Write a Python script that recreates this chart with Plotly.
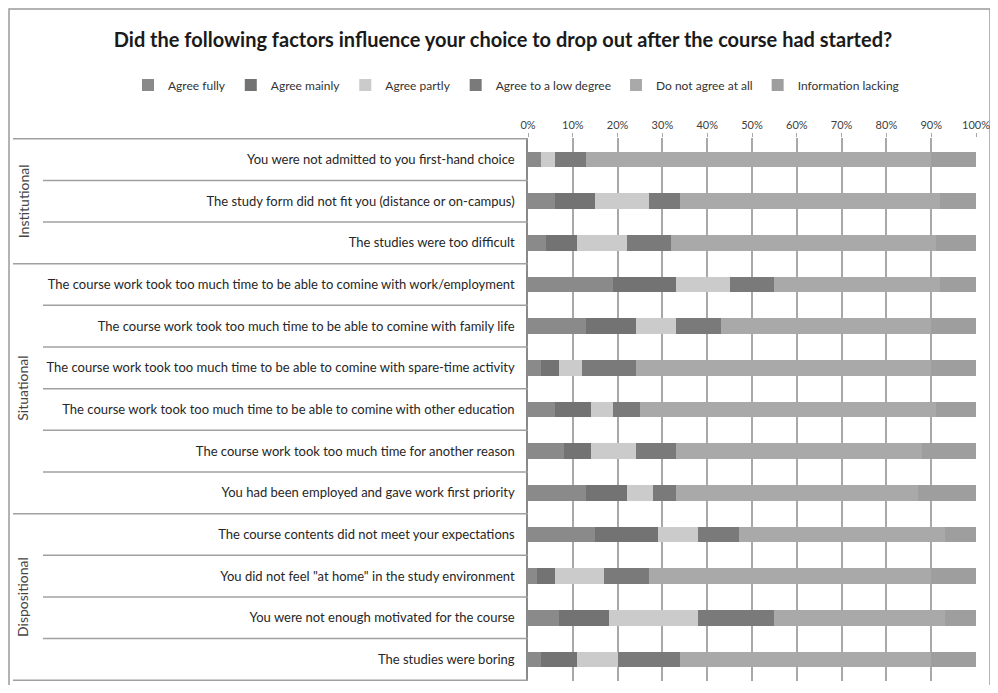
import plotly.graph_objects as go

# ---------------- data ----------------
categories = [
    "You were not admitted to you first-hand choice",
    "The study form did not fit you (distance or on-campus)",
    "The studies were too difficult",
    "The course work took too much time to be able to comine with work/employment",
    "The course work took too much time to be able to comine with family life",
    "The course work took too much time to be able to comine with spare-time activity",
    "The course work took too much time to be able to comine with other education",
    "The course work took too much time for another reason",
    "You had been employed and gave work first priority",
    "The course contents did not meet your expectations",
    "You did not feel \"at home\" in the study environment",
    "You were not enough motivated for the course",
    "The studies were boring",
]
groups = ["Institutional", "Situational", "Dispositional"]
group_sizes = [3, 6, 4]

series_names = ["Agree fully", "Agree mainly", "Agree partly",
                "Agree to a low degree", "Do not agree at all", "Information lacking"]

agree_fully = [3, 6, 4, 19, 13, 3, 6, 8, 13, 15, 2, 7, 3]
agree_mainly = [0, 9, 7, 14, 11, 4, 8, 6, 9, 14, 4, 11, 8]
agree_partly = [3, 12, 11, 12, 9, 5, 5, 10, 6, 9, 11, 20, 9]
agree_low = [7, 7, 10, 10, 10, 12, 6, 9, 5, 9, 10, 17, 14]
not_agree = [77, 58, 59, 37, 47, 66, 66, 55, 54, 46, 63, 38, 56]
info_lacking = [10, 8, 9, 8, 10, 10, 9, 12, 13, 7, 10, 7, 10]

series_values = [agree_fully, agree_mainly, agree_partly, agree_low, not_agree, info_lacking]
colors = ["#8a8a8a", "#737373", "#cbcbcb", "#7a7a7a", "#a9a9a9", "#9e9e9e"]

x_tick_values = [0, 10, 20, 30, 40, 50, 60, 70, 80, 90, 100]
x_tick_labels = ["0%", "10%", "20%", "30%", "40%", "50%", "60%", "70%", "80%", "90%", "100%"]

# ---------------- layout geometry ----------------
# The page body has an 8px default margin, so the figure is drawn 8px
# right and down of the window corner. Positions below are window pixels.
OFF = 8
W, H = 998 - OFF, 693 - 2 * OFF
PLOT_L, PLOT_R, PLOT_T, PLOT_B = 528, 976, 138, 681
ML = PLOT_L - OFF
MR = W - (PLOT_R - OFF)
MT = PLOT_T - OFF
MB = H - (PLOT_B - OFF)
PW, PH = W - ML - MR, H - MT - MB

def px_x(p):
    return (p - PLOT_L) / PW

def px_y(p):
    return (PLOT_B - p) / PH

FONT = "Lato, 'Liberation Sans', sans-serif"

fig = go.Figure()
for name, vals, col in zip(series_names, series_values, colors):
    fig.add_trace(go.Bar(
        y=categories, x=vals, name=name, orientation="h",
        marker=dict(color=col, line=dict(width=0)),
    ))

shapes = []
n = len(categories)
boundaries = []
acc = 0
for s in group_sizes:
    acc += s
    boundaries.append(acc)
group_b = set([0] + boundaries)
for i in range(n + 1):
    x0 = px_x(13) if i in group_b else px_x(43)
    shapes.append(dict(type="line", xref="paper", yref="y",
                       x0=x0, x1=0, y0=i - 0.5, y1=i - 0.5,
                       line=dict(color="#a0a0a0", width=1.5)))
# outer frame
shapes.append(dict(type="rect", xref="paper", yref="paper",
                   x0=px_x(9), x1=px_x(990), y0=px_y(720), y1=px_y(9),
                   line=dict(color="#9a9a9a", width=1.5), fillcolor="rgba(0,0,0,0)",
                   layer="below"))

annotations = []
start = 0
for g, s in zip(groups, group_sizes):
    mid = start + (s - 1) / 2
    annotations.append(dict(
        xref="paper", yref="y", x=px_x(23), y=mid, text=g, showarrow=False,
        textangle=-90, font=dict(family=FONT, size=14, color="#454545"),
        xanchor="center", yanchor="middle"))
    start += s

fig.update_layout(
    width=W, height=H,
    margin=dict(l=ML, r=MR, t=MT, b=MB, autoexpand=False),
    paper_bgcolor="white", plot_bgcolor="white",
    barmode="stack", bargap=0.62,
    font=dict(family=FONT, color="#262626"),
    title=dict(
        text="<b>Did the following factors influence your choice to drop out after the course had started?</b>",
        x=(503 - OFF) / W, xref="container", xanchor="center",
        y=1 - (40 - OFF) / H, yref="container", yanchor="middle",
        font=dict(family=FONT, size=20, color="#1a1a1a")),
    legend=dict(orientation="h", xref="paper", yref="paper",
                x=px_x(128), xanchor="left", y=px_y(85), yanchor="middle",
                font=dict(family=FONT, size=12, color="#333333"),
                itemwidth=30, traceorder="normal", bgcolor="rgba(0,0,0,0)"),
    xaxis=dict(side="top", range=[0, 100], tickmode="array",
               tickvals=x_tick_values, ticktext=x_tick_labels,
               showgrid=True, gridcolor="#a8a8a8", gridwidth=1.5,
               ticks="outside", ticklen=4, tickcolor="#a8a8a8",
               showline=False, zeroline=False, automargin=False,
               tickfont=dict(family=FONT, size=11, color="#404040"),
               fixedrange=True),
    yaxis=dict(autorange="reversed", showgrid=False, showline=True,
               linecolor="#8a8a8a", linewidth=1.5, ticks="",
               ticklabelstandoff=9, automargin=False,
               tickfont=dict(family=FONT, size=13, color="#262626"),
               fixedrange=True),
    shapes=shapes, annotations=annotations,
    showlegend=True,
)

fig.write_html("out.html")
